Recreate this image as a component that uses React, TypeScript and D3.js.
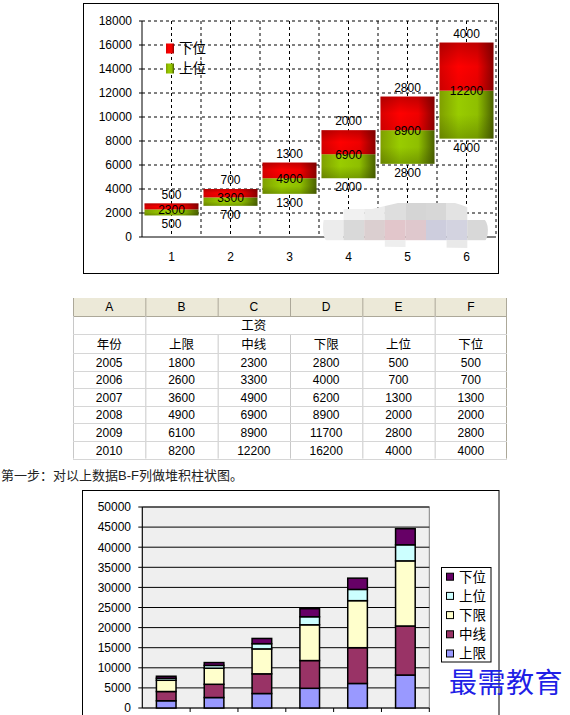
import React from 'react';
import * as d3 from 'd3';

// ---------- data ----------
const categories = ['1', '2', '3', '4', '5', '6'];
const years = ['2005', '2006', '2007', '2008', '2009', '2010'];
const upperLimit = [1800, 2600, 3600, 4900, 6100, 8200]; // 上限
const midLine = [2300, 3300, 4900, 6900, 8900, 12200]; // 中线
const lowerLimit = [2800, 4000, 6200, 8900, 11700, 16200]; // 下限
const upperPos = [500, 700, 1300, 2000, 2800, 4000]; // 上位
const lowerPos = [500, 700, 1300, 2000, 2800, 4000]; // 下位
const topTicks = [0, 2000, 4000, 6000, 8000, 10000, 12000, 14000, 16000, 18000];
const bottomTicks = [0, 5000, 10000, 15000, 20000, 25000, 30000, 35000, 40000, 45000, 50000];
const columnLetters = ['A', 'B', 'C', 'D', 'E', 'F'];
const headerRow = ['年份', '上限', '中线', '下限', '上位', '下位'];
const stackKeys = ['上限', '中线', '下限', '上位', '下位'];
const stackColors = ['#9999ff', '#993366', '#ffffcc', '#ccffff', '#660066'];
const topLegend = ['下位', '上位'];
const caption = '第一步：对以上数据B-F列做堆积柱状图。';
const watermark = '最需教育';

// decorative pixelated blur blob colours (rows of cells)
const blobRows = [
  [null, '#f1f1f1', '#ececec', '#dedede', '#d5d5d5', '#d7d7d7', '#e3e3e3', null],
  ['#ececec', '#d9d9d9', '#dbcfd0', '#e2c6cb', '#dfc8cd', '#cdcddd', '#d3d3e0', '#d8d8d8'],
  [null, null, null, '#eeeeee', null, null, '#e9e9e9', null],
];

const NUM = 'Liberation Sans, Arial, sans-serif';
const CJK = 'Liberation Sans, "Noto Sans CJK SC", sans-serif';

export default function App() {
  // ---------- top chart ----------
  const yT = d3.scaleLinear().domain([0, 18000]).range([237, 21]);
  const xT = d3.scaleBand<string>().domain(categories).range([142, 496]).padding(0);
  const bwT = xT.bandwidth() * 0.915;
  const plotL = 142, plotR = 496;

  const vLines: number[] = [];
  categories.forEach((c, i) => {
    const s = xT(c)!;
    if (i > 0) vLines.push(s);
    vLines.push(s + xT.bandwidth() / 2);
  });
  vLines.push(plotR);

  // ---------- table ----------
  const xC = d3.scaleBand<string>().domain(columnLetters).range([73, 507]).padding(0);
  const headerTop = 298, headerBot = 316;
  const row1Bot = 334;
  const row2Bot = 353;
  const rowH = 17.6;
  const tableBot = row2Bot + rowH * years.length;
  const tableRows = years.map((y, i) => [y, upperLimit[i], midLine[i], lowerLimit[i], upperPos[i], lowerPos[i]]);

  // ---------- bottom chart ----------
  const yB = d3.scaleLinear().domain([0, 50000]).range([708, 507]);
  const xB = d3.scaleBand<string>().domain(categories).range([142.3, 429.3]).padding(0);
  const bwB = xB.bandwidth() * 0.41;
  const stackData = categories.map((c, i) => ({
    cat: c,
    上限: upperLimit[i],
    中线: midLine[i],
    下限: lowerLimit[i],
    上位: upperPos[i],
    下位: lowerPos[i],
  }));
  const stacked = d3.stack<any>().keys(stackKeys)(stackData as any);
  const legendItems = stackKeys.map((k, i) => ({ k, color: stackColors[i] })).reverse();

  const blobClip = 'M 334,209 L 372,209 L 398,203 L 455,203 Q 488,212 488,230 Q 488,247 470,248 L 336,246 Q 323,245 323,228 Q 323,210 334,209 Z';

  return (
    <svg width={570} height={715} style={{ position: 'absolute', left: 0, top: 0, background: '#fff' }}>
      <defs>
        <linearGradient id="gRed" x1="0" y1="0" x2="1" y2="0">
          <stop offset="0" stopColor="#d80000" />
          <stop offset="0.35" stopColor="#ff0000" />
          <stop offset="0.7" stopColor="#f00000" />
          <stop offset="1" stopColor="#8a0000" />
        </linearGradient>
        <linearGradient id="gRedV" x1="0" y1="0" x2="0" y2="1">
          <stop offset="0" stopColor="#600000" stopOpacity="0.35" />
          <stop offset="0.5" stopColor="#600000" stopOpacity="0" />
          <stop offset="1" stopColor="#600000" stopOpacity="0.1" />
        </linearGradient>
        <linearGradient id="gGreen" x1="0" y1="0" x2="1" y2="0">
          <stop offset="0" stopColor="#7f9f00" />
          <stop offset="0.35" stopColor="#99cc00" />
          <stop offset="0.7" stopColor="#8fbf00" />
          <stop offset="1" stopColor="#4a6000" />
        </linearGradient>
        <linearGradient id="gGreenV" x1="0" y1="0" x2="0" y2="1">
          <stop offset="0" stopColor="#304000" stopOpacity="0" />
          <stop offset="0.5" stopColor="#304000" stopOpacity="0" />
          <stop offset="1" stopColor="#304000" stopOpacity="0.3" />
        </linearGradient>
        <clipPath id="blobClip">
          <path d={blobClip} />
        </clipPath>
      </defs>

      {/* ===== top chart ===== */}
      <rect x={83.5} y={3.5} width={415} height={270} fill="#fff" stroke="#000" strokeWidth={1} />
      {/* dashed grid */}
      {topTicks.filter(t => t > 0).map(t => (
        <line key={'h' + t} x1={plotL} x2={plotR} y1={yT(t)} y2={yT(t)} stroke="#000" strokeDasharray="3,3" />
      ))}
      {vLines.map((x, i) => (
        <line key={'v' + i} x1={x} x2={x} y1={yT(18000)} y2={yT(0)} stroke="#000" strokeDasharray="3,3" />
      ))}
      {/* axes */}
      <line x1={plotL} x2={plotL} y1={yT(18000)} y2={yT(0)} stroke="#000" />
      <line x1={plotL} x2={plotR} y1={yT(0)} y2={yT(0)} stroke="#000" />
      {topTicks.map(t => (
        <g key={'yt' + t}>
          <line x1={plotL - 3} x2={plotL} y1={yT(t)} y2={yT(t)} stroke="#000" />
          <text x={132} y={yT(t) + 4.3} textAnchor="end" fontFamily={NUM} fontSize={12}>{t}</text>
        </g>
      ))}
      {categories.map(c => (
        <text key={'xl' + c} x={xT(c)! + xT.bandwidth() / 2} y={261} textAnchor="middle" fontFamily={NUM} fontSize={12}>{c}</text>
      ))}
      {/* floating bars */}
      {categories.map((c, i) => {
        const x = xT(c)! + (xT.bandwidth() - bwT) / 2;
        const g0 = yT(upperLimit[i]);
        const g1 = yT(upperLimit[i] + upperPos[i]);
        const r1 = yT(upperLimit[i] + upperPos[i] + lowerPos[i]);
        return (
          <g key={'bar' + c}>
            <rect x={x} y={g1} width={bwT} height={g0 - g1} fill="url(#gGreen)" />
            <rect x={x} y={g1} width={bwT} height={g0 - g1} fill="url(#gGreenV)" />
            <rect x={x} y={r1} width={bwT} height={g1 - r1} fill="url(#gRed)" />
            <rect x={x} y={r1} width={bwT} height={g1 - r1} fill="url(#gRedV)" />
          </g>
        );
      })}
      {categories.map((c, i) => {
        const cx = xT(c)! + xT.bandwidth() / 2;
        const g0 = yT(upperLimit[i]);
        const mid = yT(midLine[i]);
        const top = yT(lowerLimit[i]);
        return (
          <g key={'lab' + c} fontFamily={NUM} fontSize={12} textAnchor="middle">
            <text x={cx} y={top - 4.8}>{lowerPos[i]}</text>
            <text x={cx} y={mid + 4.3}>{midLine[i]}</text>
            <text x={cx} y={g0 + 13}>{upperPos[i]}</text>
          </g>
        );
      })}
      {/* legend */}
      {topLegend.map((k, i) => (
        <g key={'tl' + k}>
          <rect x={166} y={43.5 + i * 20} width={8} height={10} fill={i === 0 ? 'url(#gRed)' : 'url(#gGreen)'} />
          <text x={179} y={53.3 + i * 20} fontFamily={CJK} fontSize={13.5}>{k}</text>
        </g>
      ))}
      {/* pixelated blur blob */}
      <g clipPath="url(#blobClip)">
        {blobRows.map((row, r) =>
          row.map((col, cI) =>
            col ? (
              <rect key={`b${r}-${cI}`} x={323 + cI * 20.6} y={r === 0 ? 200 : r === 1 ? 220 : 240} width={20.7} height={r === 1 ? 20.2 : 20} fill={col} />
            ) : null
          )
        )}
      </g>

      {/* ===== table ===== */}
      <rect x={73} y={headerTop} width={434} height={headerBot - headerTop} fill="#ece9d8" />
      <line x1={73} x2={507} y1={headerBot + 0.5} y2={headerBot + 0.5} stroke="#aca899" />
      {columnLetters.map((l, i) => (
        <g key={'col' + l}>
          <line x1={xC(l)! + 0.5} x2={xC(l)! + 0.5} y1={headerTop} y2={headerBot} stroke="#aca899" />
          <text x={xC(l)! + xC.bandwidth() / 2} y={headerTop + 13} textAnchor="middle" fontFamily={NUM} fontSize={12}>{l}</text>
        </g>
      ))}
      <line x1={506.5} x2={506.5} y1={headerTop} y2={tableBot} stroke="#aca899" />
      {/* vertical grid of body */}
      {columnLetters.map((l, i) => {
        const x = xC(l)! + 0.5;
        const merged = i === 2 || i === 3;
        return (
          <line key={'vg' + l} x1={x} x2={x} y1={merged ? row1Bot : headerBot} y2={tableBot} stroke="#c8c8c8" />
        );
      })}
      {/* horizontal grid */}
      {[row1Bot, row2Bot, ...years.map((_, i) => row2Bot + rowH * (i + 1))].map((y, i) => (
        <line key={'hg' + i} x1={73} x2={507} y1={Math.round(y) + 0.5} y2={Math.round(y) + 0.5} stroke="#d6d6d6" />
      ))}
      <text x={xC('C')! + xC.bandwidth() / 2} y={329.5} textAnchor="middle" fontFamily={CJK} fontSize={12.5}>工资</text>
      {headerRow.map((h, i) => (
        <text key={'hr' + i} x={xC(columnLetters[i])! + xC.bandwidth() / 2} y={348.5} textAnchor="middle" fontFamily={CJK} fontSize={12.5}>{h}</text>
      ))}
      {tableRows.map((r, ri) =>
        r.map((v, ci) => (
          <text key={`c${ri}-${ci}`} x={xC(columnLetters[ci])! + xC.bandwidth() / 2} y={row2Bot + rowH * ri + 13.5} textAnchor="middle" fontFamily={NUM} fontSize={12}>{v}</text>
        ))
      )}

      {/* ===== caption ===== */}
      <text x={1} y={479.5} fontFamily={CJK} fontSize={13} fill="#222">{caption}</text>

      {/* ===== bottom chart ===== */}
      <rect x={82.5} y={490.5} width={416.5} height={260} fill="#fff" stroke="#000" />
      <rect x={142.3} y={yB(50000)} width={429.3 - 142.3} height={yB(0) - yB(50000)} fill="#efefef" stroke="#808080" />
      {bottomTicks.filter(t => t > 0).map(t => (
        <line key={'bg' + t} x1={142.3} x2={429.3} y1={yB(t)} y2={yB(t)} stroke="#000" />
      ))}
      <line x1={142.3} x2={142.3} y1={yB(50000)} y2={yB(0)} stroke="#000" />
      <line x1={142.3} x2={429.3} y1={yB(0)} y2={yB(0)} stroke="#000" />
      {bottomTicks.map(t => (
        <g key={'byt' + t}>
          <line x1={138.3} x2={142.3} y1={yB(t)} y2={yB(t)} stroke="#000" />
          <text x={131} y={yB(t) + 4.3} textAnchor="end" fontFamily={NUM} fontSize={12}>{t}</text>
        </g>
      ))}
      {categories.map(c => (
        <line key={'bxt' + c} x1={xB(c)! + xB.bandwidth()} x2={xB(c)! + xB.bandwidth()} y1={yB(0)} y2={yB(0) + 4} stroke="#000" />
      ))}
      {stacked.map((layer, li) => (
        <g key={'layer' + li}>
          {layer.map((d: any, i: number) => (
            <rect
              key={'seg' + i}
              x={xB(categories[i])! + (xB.bandwidth() - bwB) / 2}
              y={yB(d[1])}
              width={bwB}
              height={yB(d[0]) - yB(d[1])}
              fill={stackColors[li]}
              stroke="#000"
              strokeWidth={1.5}
            />
          ))}
        </g>
      ))}
      {/* legend */}
      <rect x={441.5} y={567.5} width={49.5} height={94.5} fill="#fff" stroke="#000" />
      {legendItems.map((it, i) => (
        <g key={'bl' + it.k}>
          <rect x={446.5} y={573.2 + i * 19.2} width={7} height={7} fill={it.color} stroke="#000" />
          <text x={459} y={581.5 + i * 19.2} fontFamily={CJK} fontSize={13.5}>{it.k}</text>
        </g>
      ))}
      {/* watermark */}
      <text x={449} y={693} fontFamily={'"Noto Sans CJK SC", sans-serif'} fontSize={28} fill="#1f1fe6" letterSpacing={0.5}>{watermark}</text>
    </svg>
  );
}
